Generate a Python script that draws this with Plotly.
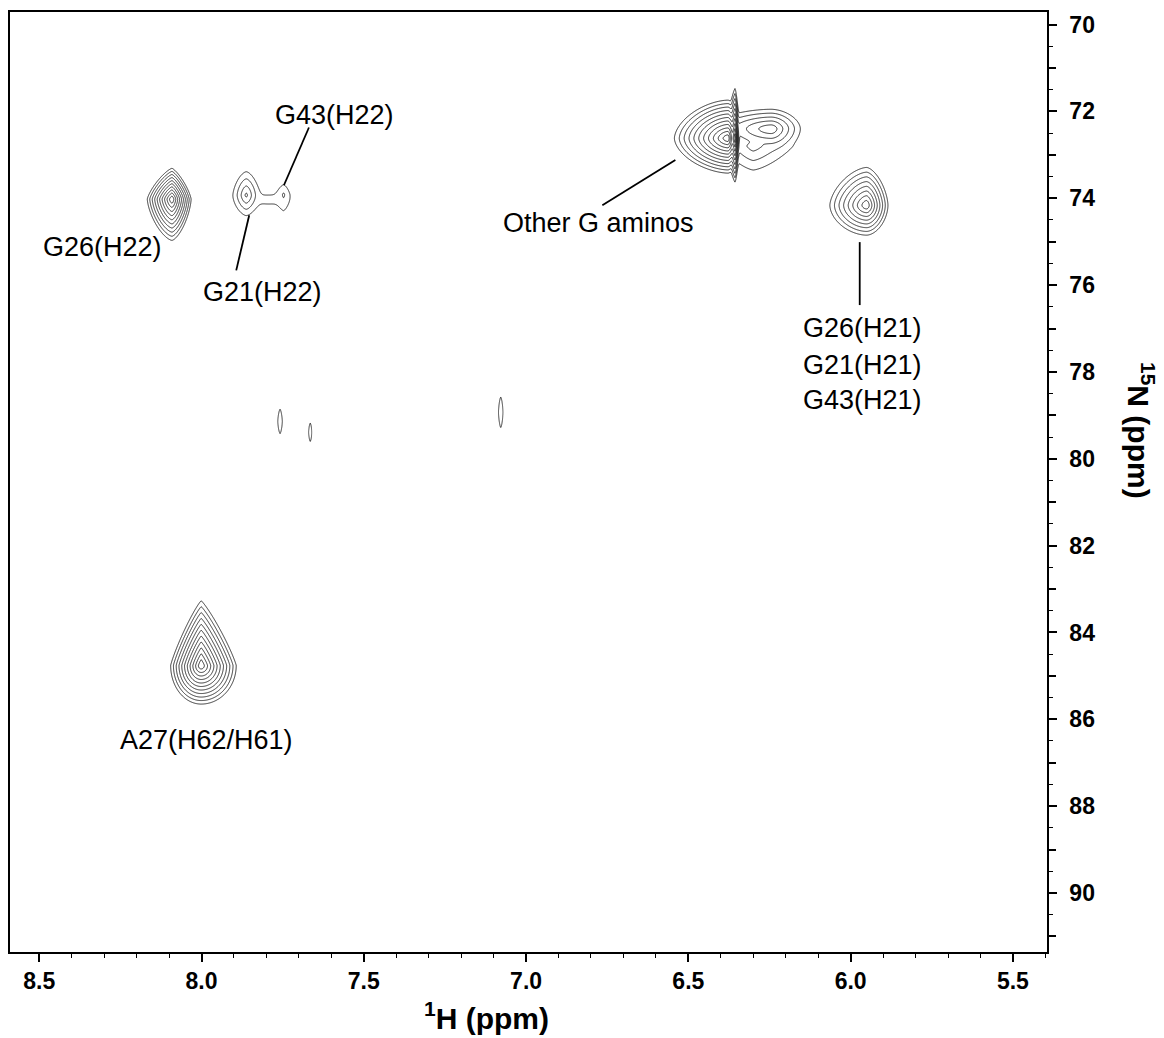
import numpy as np
import plotly.graph_objects as go

# ---------------- data ----------------
# peak components: centre (1H ppm, 15N ppm), outer-contour extents
# wl: toward higher 1H ppm, wr: toward lower 1H ppm, wu: toward lower 15N ppm, wd: toward higher 15N ppm
comp_group = ["G26H22", "G21G43", "G21G43", "G21G43",
              "OtherG", "OtherG", "OtherG", "OtherG", "H21", "A27", "S1", "S2", "S3"]
comp_x0 = [8.091, 7.862, 7.747, 7.795, 6.378, 6.356, 6.245, 6.300, 5.951, 8.001, 7.758, 7.665, 7.078]
comp_y0 = [74.02, 73.93, 73.92, 74.02, 72.62, 72.62, 72.40, 72.80, 74.16, 84.76, 79.14, 79.39, 78.93]
comp_wl = [0.076, 0.040, 0.018, 0.035, 0.165, 0.030, 0.190, 0.090, 0.113, 0.094, 0.007, 0.005, 0.007]
comp_wr = [0.059, 0.040, 0.016, 0.035, 0.040, 0.016, 0.090, 0.110, 0.066, 0.108, 0.007, 0.005, 0.007]
comp_wu = [0.71, 0.54, 0.22, 0.09, 0.88, 1.15, 0.45, 0.35, 0.87, 1.49, 0.28, 0.21, 0.35]
comp_wd = [0.95, 0.46, 0.32, 0.11, 0.80, 1.01, 0.55, 0.55, 0.69, 0.89, 0.28, 0.21, 0.35]
comp_pu = [1.3, 1.6, 1.5, 2.0, 1.7, 1.3, 1.8, 1.6, 1.6, 1.15, 1.5, 1.5, 1.5]
comp_pd = [1.5, 1.6, 1.5, 2.0, 1.7, 1.3, 1.8, 1.4, 1.8, 2.0, 1.5, 1.5, 1.5]
comp_levels = [10, 3.3, 1.2, 0.35, 11, 10, 5, 2.5, 8, 11, 0.5, 0.5, 0.5]

# annotation labels
label_text = ["G43(H22)", "G26(H22)", "G21(H22)", "Other G aminos",
              "G26(H21)", "G21(H21)", "G43(H21)", "A27(H62/H61)"]
label_x = [7.591, 8.306, 7.813, 6.777, 5.962, 5.962, 5.962, 7.986]
label_y = [72.09, 75.13, 76.15, 74.56, 76.99, 77.84, 78.65, 86.48]

# leader lines
leader_x0 = [7.669, 7.853, 6.540, 5.972]
leader_y0 = [72.37, 74.39, 73.12, 75.01]
leader_x1 = [7.746, 7.893, 6.765, 5.972]
leader_y1 = [73.70, 75.66, 74.16, 76.46]

# axes
x_range = [8.590, 5.395]
y_range = [91.36, 69.71]
x_tickvals = [8.5, 8.0, 7.5, 7.0, 6.5, 6.0, 5.5]
x_ticktext = ["8.5", "8.0", "7.5", "7.0", "6.5", "6.0", "5.5"]
y_tickvals = [70, 72, 74, 76, 78, 80, 82, 84, 86, 88, 90]
y_ticktext = ["70", "72", "74", "76", "78", "80", "82", "84", "86", "88", "90"]
y_odd_tickvals = [71, 73, 75, 77, 79, 81, 83, 85, 87, 89, 91]

FONT = "Liberation Sans, Arial, Helvetica, sans-serif"
SOFT = 2.0

# ---------------- build contour surfaces ----------------
def comp_surface(i, X, Y):
    dx = X - comp_x0[i]
    dy = Y - comp_y0[i]
    u = np.where(dx > 0, dx / comp_wl[i], dx / comp_wr[i])
    v = np.where(dy < 0, dy / comp_wu[i], dy / comp_wd[i])
    p = np.where(dy < 0, comp_pu[i], comp_pd[i])
    r = (np.abs(u) ** p + np.abs(v) ** p) ** (1.0 / p)
    return comp_levels[i] * (1.0 - r)

fig = go.Figure()
groups = []
for g in comp_group:
    if g not in groups:
        groups.append(g)

for g in groups:
    idx = [i for i, gg in enumerate(comp_group) if gg == g]
    xmin = min(comp_x0[i] - comp_wr[i] for i in idx)
    xmax = max(comp_x0[i] + comp_wl[i] for i in idx)
    ymin = min(comp_y0[i] - comp_wu[i] for i in idx)
    ymax = max(comp_y0[i] + comp_wd[i] for i in idx)
    mx = (xmax - xmin) * 0.15
    my = (ymax - ymin) * 0.15
    xs = np.linspace(xmin - mx, xmax + mx, 240)
    ys = np.linspace(ymin - my, ymax + my, 240)
    X, Y = np.meshgrid(xs, ys)
    S = np.array([comp_surface(i, X, Y) for i in idx])
    if len(idx) == 1:
        Z = S[0]
    else:
        m = S.max(axis=0)
        Z = m + np.log(np.exp(SOFT * (S - m)).sum(axis=0)) / SOFT
    fig.add_trace(go.Contour(
        x=xs, y=ys, z=np.round(Z, 4),
        autocontour=False,
        contours=dict(start=0.001, end=30, size=1, coloring="lines", showlabels=False),
        colorscale=[[0, "black"], [1, "black"]],
        line=dict(width=0.8, smoothing=0.8),
        showscale=False, hoverinfo="skip",
    ))

# leader lines
lx, ly = [], []
for a, b, c, d in zip(leader_x0, leader_y0, leader_x1, leader_y1):
    lx += [a, c, None]
    ly += [b, d, None]
fig.add_trace(go.Scatter(x=lx, y=ly, mode="lines",
                         line=dict(color="black", width=1.8),
                         hoverinfo="skip", showlegend=False))

# empty trace so the secondary (odd-tick) axis is drawn
fig.add_trace(go.Scatter(x=[None], y=[None], yaxis="y2", mode="markers",
                         hoverinfo="skip", showlegend=False))

annotations = []
for t, x, y in zip(label_text, label_x, label_y):
    annotations.append(dict(x=x, y=y, xref="x", yref="y", text=t, showarrow=False,
                            xanchor="center", yanchor="middle",
                            font=dict(family=FONT, size=27, color="black")))

# axis titles
annotations.append(dict(x=0.4593, y=-0.068, xref="paper", yref="paper",
                        text="<sup>1</sup>H (ppm)", showarrow=False,
                        xanchor="center", yanchor="middle",
                        font=dict(family=FONT, size=30, color="black", weight="bold")))
annotations.append(dict(x=1.090, y=0.555, xref="paper", yref="paper",
                        text="<sup>15</sup>N (ppm)", showarrow=False, textangle=90,
                        xanchor="center", yanchor="middle",
                        font=dict(family=FONT, size=30, color="black", weight="bold")))

fig.update_layout(
    width=1164, height=1038,
    margin=dict(l=8, r=117, t=12, b=86),
    paper_bgcolor="white", plot_bgcolor="white",
    showlegend=False,
    annotations=annotations,
    xaxis=dict(range=x_range, tickvals=x_tickvals, ticktext=x_ticktext,
               ticks="outside", ticklen=8, tickwidth=1.5, tickcolor="black",
               minor=dict(dtick=0.1, tick0=0, ticks="outside", ticklen=4, tickwidth=1, tickcolor="black"),
               showline=True, linecolor="black", linewidth=1.5, mirror=True,
               showgrid=False, zeroline=False,
               tickfont=dict(family=FONT, size=23, color="black", weight="bold")),
    yaxis=dict(range=y_range, side="right", tickvals=y_tickvals, ticktext=y_ticktext,
               ticks="outside", ticklen=8, tickwidth=1.5, tickcolor="black",
               ticklabelstandoff=8,
               minor=dict(dtick=0.5, tick0=0, ticks="outside", ticklen=4, tickwidth=1, tickcolor="black"),
               showline=True, linecolor="black", linewidth=1.5, mirror=True,
               showgrid=False, zeroline=False,
               tickfont=dict(family=FONT, size=23, color="black", weight="bold")),
    yaxis2=dict(range=y_range, overlaying="y", side="right", tickvals=y_odd_tickvals,
                showticklabels=False, ticks="outside", ticklen=8, tickwidth=1.5, tickcolor="black",
                showline=False, showgrid=False, zeroline=False),
)

fig.write_html("out.html")
